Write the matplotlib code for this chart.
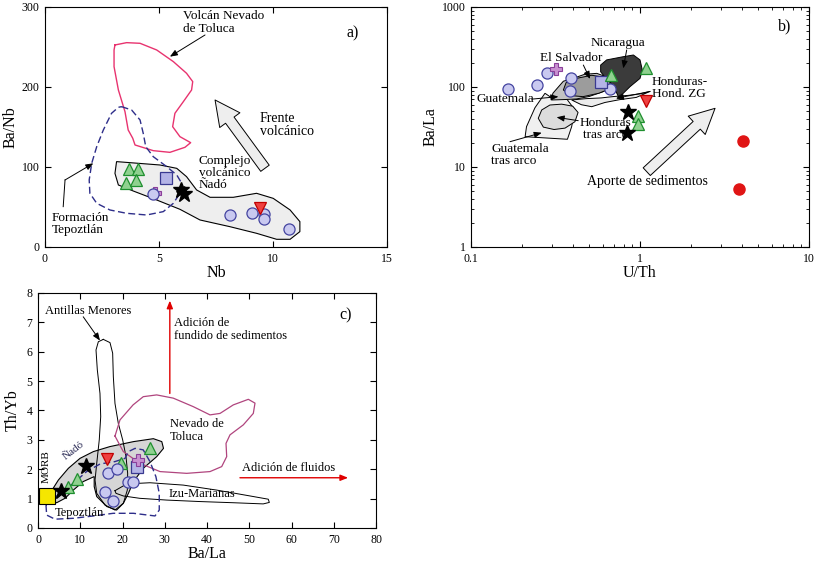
import numpy as np
import matplotlib
matplotlib.use('Agg')
import matplotlib.pyplot as plt
from matplotlib.ticker import NullFormatter, FuncFormatter

plt.rcParams['font.family'] = ['Liberation Serif', 'DejaVu Serif']
plt.rcParams['font.size'] = 9

# ---------------- panel a: Nb vs Ba/Nb ----------------
a_tri_nb = [3.68, 4.08, 3.55, 3.99]
a_tri_banb = [97.5, 97.5, 80, 84]
a_circ_nb = [4.75, 8.11, 9.07, 9.6, 9.6, 10.69]
a_circ_banb = [66, 40, 43, 41, 35, 23]
a_sq_nb, a_sq_banb = [5.29], [86.7]
a_plus_nb, a_plus_banb = [4.82], [67.5]
a_red_nb, a_red_banb = [9.43], [49]
a_star_nb = [5.95, 6.1]
a_star_banb = [71, 66]

a_nado = [(3.14, 106.7), (5.04, 102.5), (5.78, 98.3), (6.21, 87.9), (6.65, 71.3),
          (7.24, 62.1), (8.26, 62.1), (9.28, 67.1), (10.01, 60.8), (10.75, 46.3),
          (11.18, 31.7), (11.18, 19.2), (10.75, 9.6), (10.16, 9.6), (9.28, 17.1),
          (8.11, 25.4), (6.80, 33.75), (5.92, 47.1), (4.90, 58.75), (3.87, 70),
          (3.22, 77.5), (3.07, 92)]
a_toluca = [(3.07, 252.5), (3.58, 255.4), (4.17, 254.6), (4.90, 246.25), (5.63, 231.7),
            (6.21, 217.1), (6.48, 206.7), (6.43, 196.25), (6.07, 181.7), (5.70, 167.1),
            (5.60, 150.4), (5.92, 137.9), (6.39, 130.4), (6.14, 124.6), (5.48, 118.3),
            (4.75, 120.4), (3.95, 127.5), (3.85, 135.9), (3.65, 146.25), (3.51, 169.1),
            (3.22, 196.25), (3.03, 225.4), (3.03, 246.25)]
a_tepoz = [(3.36, 175.4), (3.80, 171.25), (4.17, 158.75), (4.31, 142.1), (4.42, 125.4),
           (4.75, 112.9), (5.34, 100.4), (5.78, 90), (6.0, 79.6), (5.92, 67.1),
           (5.63, 54.6), (5.19, 44.2), (4.46, 40), (3.58, 42.1), (2.85, 46.25),
           (2.27, 54.6), (1.97, 67.1), (1.94, 83.75), (2.05, 104.6), (2.27, 125.4),
           (2.56, 146.25), (2.92, 167.1), (3.22, 174.6)]

# ---------------- panel b: U/Th vs Ba/La ----------------
b_circ_uth = [0.165, 0.247, 0.283, 0.391, 0.386, 0.664]
b_circ_bala = [93.6, 106, 148, 131, 90, 93.6]
b_plus_uth, b_plus_bala = [0.317], [166]
b_sq_uth, b_sq_bala = [0.585], [116]
b_tri_uth = [0.673, 1.086, 0.968, 0.968]
b_tri_bala = [141, 171, 43.4, 34.5]
b_red_uth, b_red_bala = [1.086], [66.8]
b_star_uth = [0.853, 0.841]
b_star_bala = [49, 26.4]
b_sed_uth = [4.05, 3.87]
b_sed_bala = [21.3, 5.3]

b_guat_back = [(0.274, 83.4), (0.293, 75.7), (0.321, 72.2), (0.370, 70.0), (0.412, 51.6),
               (0.394, 31.9), (0.372, 22.2), (0.209, 23.9), (0.213, 31.9), (0.239, 55.0)]
b_hond_zg = [(0.394, 68.8), (0.480, 71.5), (0.590, 73.0), (0.700, 76.0), (0.850, 78.5),
             (1.000, 82.0), (1.146, 88.0), (0.950, 74.0), (0.760, 69.5), (0.620, 64.0),
             (0.518, 56.7), (0.450, 60.0)]
b_guatemala = [(0.300, 68.8), (0.305, 83.4), (0.330, 101), (0.352, 118), (0.410, 130),
               (0.470, 144), (0.555, 148), (0.650, 131), (0.664, 108), (0.610, 88),
               (0.500, 76), (0.420, 70.8), (0.350, 69.5)]
b_salvador = [(0.352, 91.7), (0.365, 113), (0.420, 128), (0.518, 140), (0.593, 134),
              (0.664, 116), (0.664, 95), (0.570, 83.4), (0.460, 75.7), (0.390, 78)]
b_nicaragua = [(0.585, 188), (0.635, 218), (0.796, 239), (0.914, 251), (1.0, 218),
               (1.032, 163), (1.0, 128), (0.873, 101), (0.796, 83.4), (0.745, 75.7),
               (0.702, 99), (0.664, 116), (0.621, 132), (0.585, 155)]
b_hond_ta = [(0.250, 40.6), (0.262, 51.6), (0.293, 59.5), (0.344, 61.0), (0.400, 57.5),
             (0.430, 48.0), (0.412, 36.8), (0.360, 30.6), (0.310, 29.4), (0.268, 31.5)]

# ---------------- panel c: Ba/La vs Th/Yb ----------------
c_morb_bala, c_morb_thyb = [2.05], [1.09]
c_star_bala = [11.36, 5.44]
c_star_thyb = [2.11, 1.27]
c_tri_bala = [7.02, 9.15, 19.57, 26.5]
c_tri_thyb = [1.385, 1.67, 2.20, 2.71]
c_red_bala, c_red_thyb = [16.25], [2.34]
c_circ_bala = [16.6, 18.77, 21.4, 22.4, 15.86, 17.8]
c_circ_thyb = [1.88, 2.0, 1.58, 1.58, 1.24, 0.92]
c_sq_bala, c_sq_thyb = [23.4], [2.09]
c_plus_bala, c_plus_thyb = [23.7], [2.31]

c_nado = [(2.84, 1.18), (4.81, 1.63), (7.18, 2.03), (9.94, 2.37), (13.1, 2.60),
          (17.0, 2.77), (22.6, 2.94), (27.3, 3.04), (29.3, 2.94), (29.7, 2.71),
          (28.1, 2.43), (24.9, 2.03), (22.6, 1.58), (21.4, 1.18), (20.2, 0.84),
          (18.6, 0.61), (16.3, 0.73), (13.9, 1.07), (13.3, 1.41), (13.3, 1.75),
          (10.7, 1.58), (8.36, 1.29), (6.39, 1.01), (4.42, 0.86), (3.24, 0.93)]
c_antillas = [(15.46, 6.42), (17.04, 6.31), (17.67, 5.95), (17.83, 5.15), (18.22, 4.24),
              (19.01, 3.56), (20.04, 3.0), (20.83, 2.43), (21.22, 1.86), (21.14, 1.29),
              (20.2, 0.84), (18.22, 0.61), (15.86, 0.78), (13.9, 1.18), (13.5, 1.63),
              (13.9, 2.20), (14.5, 3.0), (14.84, 3.79), (14.67, 4.58), (14.04, 5.38),
              (13.73, 6.06), (14.28, 6.34)]
c_toluca = [(18.22, 3.13), (19.41, 3.68), (22.5, 4.19), (24.92, 4.47), (28.09, 4.53),
            (32.02, 4.42), (36.76, 4.13), (40.71, 3.85), (43.08, 3.90), (46.22, 4.19),
            (49.78, 4.38), (51.36, 4.25), (50.96, 3.90), (48.59, 3.51), (45.44, 3.17),
            (44.50, 2.88), (44.66, 2.43), (43.48, 2.09), (40.71, 1.92), (35.19, 1.86),
            (28.88, 1.92), (24.14, 2.20), (20.19, 2.60)]
c_izu = [(18.22, 1.27), (21.0, 1.50), (26.5, 1.54), (34.4, 1.46), (42.3, 1.29),
         (50.2, 1.09), (54.5, 0.98), (54.75, 0.87), (53.3, 0.82), (46.2, 0.86),
         (38.3, 0.90), (30.5, 0.95), (24.1, 1.01), (20.2, 1.09), (18.46, 1.18)]
c_tepoz = [(1.89, 0.78), (2.05, 0.44), (4.02, 0.30), (8.36, 0.33), (13.1, 0.41),
           (17.8, 0.50), (22.6, 0.50), (27.7, 0.41), (28.7, 0.61), (28.7, 1.18),
           (27.9, 1.75), (26.5, 2.26), (24.9, 2.66), (22.96, 2.71), (21.4, 2.60),
           (20.6, 2.37), (18.2, 2.26), (14.7, 2.18), (11.5, 1.92), (8.36, 1.52),
           (5.21, 1.18), (2.84, 0.90)]

CIRC = dict(marker='o', ms=8, mfc='#c9c9f0', mec='#4444a0', mew=0.9, ls='none')
TRI = dict(marker='^', ms=9, mfc='#8fd18f', mec='#1f8f2f', mew=0.9, ls='none')
RED = dict(marker='v', ms=9, mfc='#ef4040', mec='#c00000', mew=0.9, ls='none')
SQ = dict(marker='s', ms=8, mfc='#b4b4e6', mec='#3a3a90', mew=0.9, ls='none')
PLUS = dict(marker='P', ms=8, mfc='#c890d0', mec='#8a3f9a', mew=0.8, ls='none')
STAR = dict(marker='*', ms=12, mfc='k', mec='k', ls='none')
THIN = dict(arrowstyle='-|>,head_length=0.5,head_width=0.2', color='k', lw=0.7,
            shrinkA=0, shrinkB=0)
HOLLOW = dict(arrowstyle='simple,head_length=1.0,head_width=1.0,tail_width=0.42',
              fc='#eeeeee', ec='k', lw=0.7, mutation_scale=18, shrinkA=0, shrinkB=0)
TICK_FS = 8.5
LABEL_FS = 11.5


def closed(pts):
    xy = np.array(pts + [pts[0]])
    return xy[:, 0], xy[:, 1]


def style_axes(ax):
    ax.tick_params(which='both', direction='in', top=True, right=True,
                   labelsize=TICK_FS, pad=4)
    ax.tick_params(which='major', length=4)
    ax.tick_params(which='minor', length=2.5)
    for s in ax.spines.values():
        s.set_linewidth(0.8)


fig = plt.figure(figsize=(8.19, 5.67), dpi=100)

# ---- a ----
ax = fig.add_axes([0.0549, 0.5644, 0.4176, 0.4233])
x, y = closed(a_nado)
ax.fill(x, y, fc='#eeeeee', ec='k', lw=0.8)
x, y = closed(a_toluca)
ax.plot(x, y, color='#e8336f', lw=1.0)
x, y = closed(a_tepoz)
ax.plot(x, y, color='#2e2e8a', lw=1.0, dashes=(5, 2.5))
ax.plot(a_tri_nb, a_tri_banb, **TRI)
ax.plot(a_sq_nb, a_sq_banb, **SQ)
ax.plot(a_plus_nb, a_plus_banb, **PLUS)
ax.plot(a_circ_nb, a_circ_banb, **CIRC)
ax.plot(a_red_nb, a_red_banb, **RED)
ax.plot(a_star_nb, a_star_banb, **STAR)
ax.text(6.05, 296, 'Volcán Nevado\nde Toluca', va='top', ha='left', fontsize=9.5, linespacing=1.05)
ax.annotate('', xy=(5.48, 237.9), xytext=(7.02, 265), arrowprops=THIN)
ax.plot([0.80, 0.88], [50.4, 83.75], color='k', lw=0.7)
ax.annotate('', xy=(2.12, 104.6), xytext=(0.88, 83.75), arrowprops=THIN)
ax.text(0.3, 44, 'Formación\nTepoztlán', va='top', ha='left', fontsize=9.5, linespacing=1.05)
ax.text(6.75, 115, 'Complejo\nvolcánico\nÑadó', va='top', ha='left', fontsize=9.5, linespacing=1.0)
ax.text(9.43, 169, 'Frente\nvolcánico', va='top', ha='left', fontsize=10, linespacing=1.05)
ax.annotate('', xy=(7.46, 183.75), xytext=(9.65, 98.4), arrowprops=HOLLOW)
ax.text(13.5, 267, 'a)', ha='center', va='center', fontsize=11.5)
ax.set_xlim(0, 15)
ax.set_ylim(0, 300)
ax.set_xticks([0, 5, 10, 15])
ax.set_yticks([0, 100, 200, 300])
ax.set_xlabel('Nb', fontsize=LABEL_FS, labelpad=0)
ax.set_ylabel('Ba/Nb', fontsize=LABEL_FS, labelpad=2)
style_axes(ax)

# ---- b ----
ax = fig.add_axes([0.5751, 0.5644, 0.4127, 0.4233])
ax.set_xscale('log')
ax.set_yscale('log')
for pts, fc in [(b_guat_back, '#f0f0f0'), (b_hond_zg, '#ececec'),
                (b_guatemala, '#c2c2c2'), (b_salvador, '#9c9c9c'),
                (b_nicaragua, '#3b3b3b'), (b_hond_ta, '#dcdcdc')]:
    x, y = closed(pts)
    ax.fill(x, y, fc=fc, ec='k', lw=0.7)
ax.plot(b_circ_uth, b_circ_bala, **CIRC)
ax.plot(b_plus_uth, b_plus_bala, **PLUS)
ax.plot(b_sq_uth, b_sq_bala, **SQ)
ax.plot(b_tri_uth, b_tri_bala, **TRI)
ax.plot(b_red_uth, b_red_bala, **RED)
ax.plot(b_star_uth, b_star_bala, **STAR)
ax.plot(b_sed_uth, b_sed_bala, marker='o', ms=8, mfc='#e01515', mec='#e01515', ls='none')
ax.text(0.745, 352, 'Nicaragua', ha='center', va='center', fontsize=9.5)
ax.annotate('', xy=(0.796, 171), xytext=(0.834, 290), arrowprops=THIN)
ax.text(0.256, 228, 'El Salvador', ha='left', va='center', fontsize=9.5)
ax.annotate('', xy=(0.506, 126), xytext=(0.462, 188), arrowprops=THIN)
ax.text(0.108, 70.2, 'Guatemala', ha='left', va='center', fontsize=9.5)
ax.annotate('', xy=(0.329, 75.7), xytext=(0.229, 70.5), arrowprops=THIN)
ax.text(0.132, 20.1, 'Guatemala\ntras arco', ha='left', va='top', fontsize=9.5, linespacing=1.05)
ax.annotate('', xy=(0.262, 26.8), xytext=(0.170, 20.7), arrowprops=THIN)
ax.text(0.44, 42.5, 'Honduras\ntras arco', ha='left', va='top', fontsize=9.5,
        linespacing=1.05, multialignment='center')
ax.annotate('', xy=(0.321, 41.8), xytext=(0.431, 37.9), arrowprops=THIN)
ax.text(1.17, 137, 'Honduras-\nHond. ZG', ha='left', va='top', fontsize=9.5, linespacing=1.05)
ax.annotate('', xy=(0.72, 72), xytext=(1.15, 88), arrowprops=THIN)
ax.text(0.484, 6.55, 'Aporte de sedimentos', ha='left', va='center', fontsize=10)
ax.annotate('', xy=(2.78, 54.1), xytext=(1.096, 8.74), arrowprops=HOLLOW)
ax.text(7.2, 567, 'b)', ha='center', va='center', fontsize=11.5)
ax.set_xlim(0.1, 10)
ax.set_ylim(1, 1000)
fmt = FuncFormatter(lambda v, p: ('%g' % v))
ax.xaxis.set_major_formatter(fmt)
ax.yaxis.set_major_formatter(fmt)
ax.xaxis.set_minor_formatter(NullFormatter())
ax.yaxis.set_minor_formatter(NullFormatter())
ax.set_xlabel('U/Th', fontsize=LABEL_FS, labelpad=0)
ax.set_ylabel('Ba/La', fontsize=LABEL_FS, labelpad=2)
style_axes(ax)

# ---- c ----
ax = fig.add_axes([0.0464, 0.0688, 0.4127, 0.4145])
x, y = closed(c_nado)
ax.fill(x, y, fc='#d6d6d6', ec='k', lw=0.8)
x, y = closed(c_antillas)
ax.plot(x, y, color='k', lw=0.7)
x, y = closed(c_toluca)
ax.plot(x, y, color='#b0457e', lw=0.9)
x, y = closed(c_izu)
ax.plot(x, y, color='k', lw=0.7)
x, y = closed(c_tepoz)
ax.plot(x, y, color='#2e2e8a', lw=1.0, dashes=(5, 2.5))
ax.plot(c_morb_bala, c_morb_thyb, marker='s', ms=12, mfc='#f5e600', mec='k', mew=0.8, ls='none')
ax.plot(c_tri_bala, c_tri_thyb, **TRI)
ax.plot(c_red_bala, c_red_thyb, **RED)
ax.plot(c_circ_bala, c_circ_thyb, **CIRC)
ax.plot(c_sq_bala, c_sq_thyb, **SQ)
ax.plot(c_plus_bala, c_plus_thyb, **PLUS)
ax.plot(c_star_bala, c_star_thyb, **STAR)
ax.text(1.66, 7.39, 'Antillas Menores', ha='left', va='center', fontsize=9)
ax.annotate('', xy=(14.67, 6.38), xytext=(10.7, 7.19), arrowprops=THIN)
ax.text(72.7, 7.25, 'c)', ha='center', va='center', fontsize=11.5)
ax.annotate('', xy=(31.2, 7.74), xytext=(31.2, 4.58),
            arrowprops=dict(arrowstyle='-|>,head_length=0.5,head_width=0.2',
                            color='#e00000', lw=1.0, shrinkA=0, shrinkB=0))
ax.text(32.3, 7.17, 'Adición de\nfundido de sedimentos', ha='left', va='top', fontsize=9, linespacing=1.05)
ax.text(31.2, 3.73, 'Nevado de\nToluca', ha='left', va='top', fontsize=9, linespacing=1.05)
ax.text(48.2, 2.03, 'Adición de fluidos', ha='left', va='center', fontsize=9)
ax.annotate('', xy=(73.4, 1.71), xytext=(47.8, 1.71),
            arrowprops=dict(arrowstyle='-|>,head_length=0.5,head_width=0.2',
                            color='#e00000', lw=1.0, shrinkA=0, shrinkB=0))
ax.text(30.8, 1.16, 'Izu-Marianas', ha='left', va='center', fontsize=9)
ax.text(4.02, 0.52, 'Tepoztlán', ha='left', va='center', fontsize=9)
ax.text(8.36, 2.62, 'Ñadó', ha='center', va='center', fontsize=8, rotation=38, color='#2a2a55')
ax.text(2.05, 2.09, 'MORB', ha='center', va='center', fontsize=8, rotation=90)
ax.set_xlim(0, 80)
ax.set_ylim(0, 8)
ax.set_xticks(np.arange(0, 81, 10))
ax.set_yticks(np.arange(0, 9, 1))
ax.set_xlabel('Ba/La', fontsize=LABEL_FS, labelpad=0)
ax.set_ylabel('Th/Yb', fontsize=LABEL_FS, labelpad=4)
style_axes(ax)

fig.savefig('out.png', dpi=100)
